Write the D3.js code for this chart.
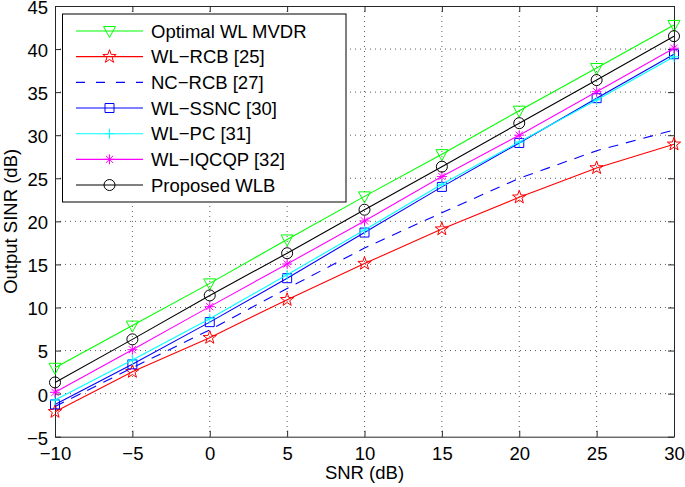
<!DOCTYPE html>
<html><head><meta charset="utf-8">
<script src="https://cdn.jsdelivr.net/npm/d3@7"></script>
<style>body{margin:0;background:#fff}svg{display:block}text{font-family:"Liberation Sans",Arial,Helvetica,sans-serif}</style>
</head><body>
<svg id="c" width="685" height="487"></svg>
<script>
const snr = [-10, -5, 0, 5, 10, 15, 20, 25, 30];
const optimalMVDR = [3.0, 7.9, 12.8, 17.9, 22.9, 27.8, 32.85, 37.8, 42.8];
const wlRCB = [-2.1, 2.55, 6.5, 10.9, 15.1, 19.1, 22.8, 26.2, 28.95];
const ncRCB = [-1.5, 3.0, 7.4, 12.2, 16.9, 21.0, 25.0, 28.2, 30.6];
const wlSSNC = [-1.25, 3.4, 8.3, 13.4, 18.7, 24.0, 29.1, 34.3, 39.4];
const wlPC = [-0.75, 3.9, 8.7, 13.8, 19.0, 24.3, 29.2, 34.1, 39.1];
const wlIQCQP = [0.15, 5.1, 10.1, 15.05, 20.05, 25.2, 30.0, 35.05, 40.1];
const proposedWLB = [1.3, 6.3, 11.4, 16.3, 21.35, 26.35, 31.4, 36.4, 41.5];
const xTicks = [-10, -5, 0, 5, 10, 15, 20, 25, 30];
const yTicks = [-5, 0, 5, 10, 15, 20, 25, 30, 35, 40, 45];
const seriesNames = ["Optimal WL MVDR", "WL\u2212RCB [25]", "NC\u2212RCB [27]", "WL\u2212SSNC [30]", "WL\u2212PC [31]", "WL\u2212IQCQP [32]", "Proposed WLB"];

const series = [
  {name: seriesNames[0], values: optimalMVDR, color: "#00ff00", marker: "tri", dash: null},
  {name: seriesNames[1], values: wlRCB, color: "#ff0000", marker: "star", dash: null},
  {name: seriesNames[2], values: ncRCB, color: "#0000ff", marker: null, dash: "10,8"},
  {name: seriesNames[3], values: wlSSNC, color: "#0000ff", marker: "square", dash: null},
  {name: seriesNames[4], values: wlPC, color: "#00ffff", marker: "plus", dash: null},
  {name: seriesNames[5], values: wlIQCQP, color: "#ff00ff", marker: "ast", dash: null},
  {name: seriesNames[6], values: proposedWLB, color: "#000000", marker: "circle", dash: null}
];

const FS = "18.5px";
const L = 55, R = 674, T = 6, B = 436.7;
const x = d3.scaleLinear().domain([-10, 30]).range([L, R]);
const y = d3.scaleLinear().domain([-5, 45]).range([B, T]);
const svg = d3.select("#c");
const fmt = v => v < 0 ? "\u2212" + Math.abs(v) : String(v);

// grid
const g = svg.append("g");
g.selectAll(".gx").data(xTicks.slice(1, -1)).enter().append("line")
  .attr("x1", d => x(d)).attr("x2", d => x(d)).attr("y1", T).attr("y2", B)
  .attr("stroke", "#333").attr("stroke-width", 0.8).attr("stroke-dasharray", "1,4");
g.selectAll(".gy").data(yTicks.slice(1, -1)).enter().append("line")
  .attr("y1", d => y(d)).attr("y2", d => y(d)).attr("x1", L).attr("x2", R)
  .attr("stroke", "#333").attr("stroke-width", 0.8).attr("stroke-dasharray", "1,4");

// axes with inward ticks
const axCol = "#262626";
const xa = svg.append("g").attr("transform", `translate(0,${B})`)
  .call(d3.axisBottom(x).tickValues(xTicks).tickFormat(fmt).tickSizeInner(-6).tickSizeOuter(0).tickPadding(10));
const xt = svg.append("g").attr("transform", `translate(0,${T})`)
  .call(d3.axisTop(x).tickValues(xTicks).tickFormat("").tickSizeInner(-6).tickSizeOuter(0));
const ya = svg.append("g").attr("transform", `translate(${L},0)`)
  .call(d3.axisLeft(y).tickValues(yTicks).tickFormat(fmt).tickSizeInner(-6).tickSizeOuter(0).tickPadding(7));
const yr = svg.append("g").attr("transform", `translate(${R},0)`)
  .call(d3.axisRight(y).tickValues(yTicks).tickFormat("").tickSizeInner(-6).tickSizeOuter(0));
[xa, xt, ya, yr].forEach(a => {
  a.selectAll("path").attr("stroke", axCol).attr("stroke-width", 1);
  a.selectAll("line").attr("stroke", axCol).attr("stroke-width", 1);
  a.selectAll("text").attr("fill", "#000").style("font-size", FS).style("font-family", "'Liberation Sans',Arial,sans-serif");
});
ya.selectAll("text").attr("dy", "0.4em");

// markers
function markerPath(type) {
  switch (type) {
    case "tri": return "M-6,-4.5L6,-4.5L0,6.5Z";
    case "square": return "M-4.5,-4.5L4.5,-4.5L4.5,4.5L-4.5,4.5Z";
    case "plus": return "M-5,0L5,0M0,-5L0,5";
    case "ast": return "M-5,0L5,0M0,-5L0,5M-3.6,-3.6L3.6,3.6M-3.6,3.6L3.6,-3.6";
    case "star": {
      let p = [];
      for (let i = 0; i < 10; i++) {
        const r = i % 2 === 0 ? 7 : 2.8;
        const a = -Math.PI / 2 + i * Math.PI / 5;
        p.push([r * Math.cos(a), r * Math.sin(a)]);
      }
      return "M" + p.map(q => q[0].toFixed(2) + "," + q[1].toFixed(2)).join("L") + "Z";
    }
  }
  return "";
}
function drawMarker(sel, type, color, cx, cy) {
  if (!type) return;
  if (type === "circle") {
    sel.append("circle").attr("cx", cx).attr("cy", cy).attr("r", 5.5)
      .attr("fill", "none").attr("stroke", color).attr("stroke-width", 1);
  } else {
    sel.append("path").attr("d", markerPath(type)).attr("transform", `translate(${cx},${cy})`)
      .attr("fill", "none").attr("stroke", color).attr("stroke-width", 1);
  }
}

const line = d3.line().x((d, i) => x(snr[i])).y(d => y(d));
const plot = svg.append("g");
series.forEach(s => {
  plot.append("path").attr("d", line(s.values)).attr("fill", "none")
    .attr("stroke", s.color).attr("stroke-width", 1.1)
    .attr("stroke-dasharray", s.dash);
  s.values.forEach((v, i) => drawMarker(plot, s.marker, s.color, x(snr[i]), y(v)));
});

// legend
const lg = svg.append("g");
lg.append("rect").attr("x", 62.5).attr("y", 14).attr("width", 283.5).attr("height", 188)
  .attr("fill", "#fff").attr("stroke", "#000").attr("stroke-width", 1);
series.forEach((s, i) => {
  const ry = 31 + i * 25.67;
  lg.append("line").attr("x1", 76).attr("x2", 143).attr("y1", ry).attr("y2", ry)
    .attr("stroke", s.color).attr("stroke-width", 1.1).attr("stroke-dasharray", s.dash ? "9,11" : null);
  drawMarker(lg, s.marker, s.color, 109.5, ry);
  lg.append("text").attr("x", 151).attr("y", ry).attr("dy", "0.36em")
    .style("font-size", FS).text(s.name);
});

// labels
svg.append("text").attr("x", (L + R) / 2).attr("y", 479).attr("text-anchor", "middle")
  .style("font-size", FS).text("SNR (dB)");
svg.append("text").attr("transform", `translate(17,${(T + B) / 2}) rotate(-90)`)
  .attr("text-anchor", "middle").style("font-size", FS).text("Output SINR (dB)");
</script>
</body></html>
